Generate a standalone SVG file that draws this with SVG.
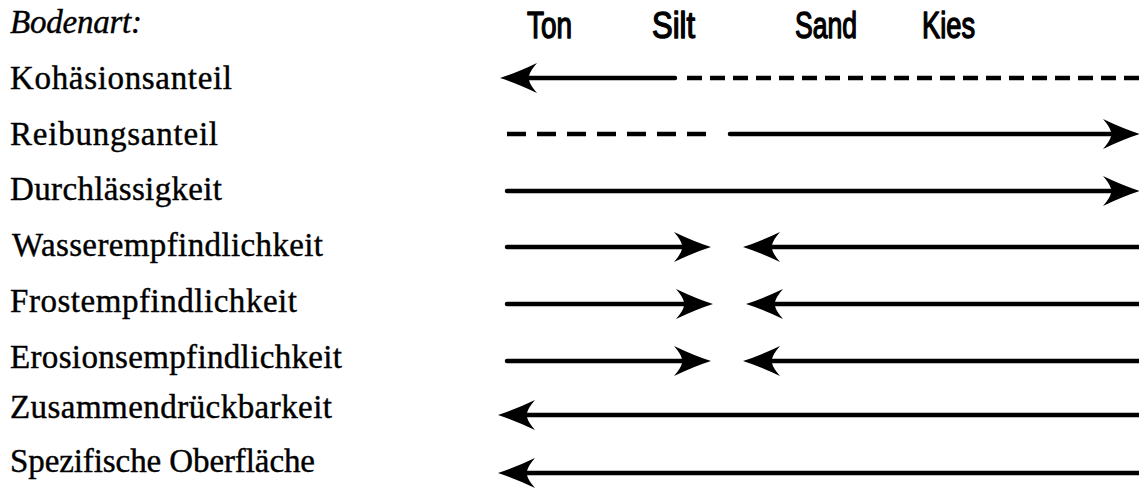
<svg xmlns="http://www.w3.org/2000/svg" width="1139" height="488" viewBox="0 0 1139 488">
<style>
.lbl{font-family:"Liberation Serif","DejaVu Serif",serif;font-size:33px;fill:#000;stroke:#000;stroke-width:0.4}
.it{font-style:italic}
.hdr{font-family:"Liberation Sans","DejaVu Sans",sans-serif;font-size:36px;fill:#000;stroke:#000;stroke-width:1.4;stroke-linejoin:round}
.ln{stroke:#000;stroke-width:4.5;stroke-linecap:round;fill:none}
.d1{stroke-dasharray:15 8;stroke-linecap:butt}
.d2{stroke-dasharray:19 11;stroke-linecap:butt}
.hd{fill:#000}
</style>
<defs>
<path id="hl" d="M0,0 Q16,-5 37,-15 Q30,-7 29,-2 L29,2 Q30,7 37,15 Q16,5 0,0 Z"/>
<path id="hr" d="M0,0 Q-16,-5 -37,-15 Q-30,-7 -29,-2 L-29,2 Q-30,7 -37,15 Q-16,5 0,0 Z"/>
</defs>
<rect width="1139" height="488" fill="#fff"/>
<g id="header">
<text class="lbl it" x="10" y="33" textLength="132">Bodenart:</text>
<text class="hdr" x="527" y="38" textLength="45" lengthAdjust="spacingAndGlyphs">Ton</text>
<text class="hdr" x="652" y="38" textLength="43" lengthAdjust="spacingAndGlyphs">Silt</text>
<text class="hdr" x="795" y="38" textLength="62" lengthAdjust="spacingAndGlyphs">Sand</text>
<text class="hdr" x="922" y="38" textLength="53" lengthAdjust="spacingAndGlyphs">Kies</text>
</g>
<g id="n-kohaesion"><text class="lbl" x="10" y="89" textLength="222">Kohäsionsanteil</text></g>
<g id="n-reibung"><text class="lbl" x="10" y="145" textLength="208">Reibungsanteil</text></g>
<g id="n-durch"><text class="lbl" x="10" y="200" textLength="212">Durchlässigkeit</text></g>
<g id="n-wasser"><text class="lbl" x="12" y="256" textLength="311">Wasserempfindlichkeit</text></g>
<g id="n-frost"><text class="lbl" x="10" y="312" textLength="287">Frostempfindlichkeit</text></g>
<g id="n-erosion"><text class="lbl" x="10" y="368" textLength="332">Erosionsempfindlichkeit</text></g>
<g id="n-zusammen"><text class="lbl" x="10" y="418" textLength="322">Zusammendrückbarkeit</text></g>
<g id="n-spez"><text class="lbl" x="10" y="472" textLength="305">Spezifische Oberfläche</text></g>
<g id="connectors">
<line class="ln" x1="525" y1="78" x2="675" y2="78"/>
<use href="#hl" class="hd" x="500" y="78"/>
<line class="ln d1" x1="687" y1="78" x2="1139" y2="78"/>
<line class="ln d2" x1="507" y1="134" x2="713" y2="134"/>
<line class="ln" x1="730" y1="134" x2="1110" y2="134"/>
<use href="#hr" class="hd" x="1140" y="134"/>
<line class="ln" x1="507" y1="191" x2="1110" y2="191"/>
<use href="#hr" class="hd" x="1140" y="191"/>
<line class="ln" x1="507" y1="247" x2="685" y2="247"/>
<use href="#hr" class="hd" x="711" y="247"/>
<use href="#hl" class="hd" x="743" y="247"/>
<line class="ln" x1="768" y1="247" x2="1139" y2="247"/>
<line class="ln" x1="507" y1="304" x2="688" y2="304"/>
<use href="#hr" class="hd" x="713" y="304"/>
<use href="#hl" class="hd" x="746" y="304"/>
<line class="ln" x1="771" y1="304" x2="1139" y2="304"/>
<line class="ln" x1="507" y1="361" x2="685" y2="361"/>
<use href="#hr" class="hd" x="711" y="361"/>
<use href="#hl" class="hd" x="743" y="361"/>
<line class="ln" x1="768" y1="361" x2="1139" y2="361"/>
<use href="#hl" class="hd" x="498" y="415"/>
<line class="ln" x1="523" y1="415" x2="1139" y2="415"/>
<use href="#hl" class="hd" x="498" y="473"/>
<line class="ln" x1="523" y1="473" x2="1139" y2="473"/>
</g>
</svg>
